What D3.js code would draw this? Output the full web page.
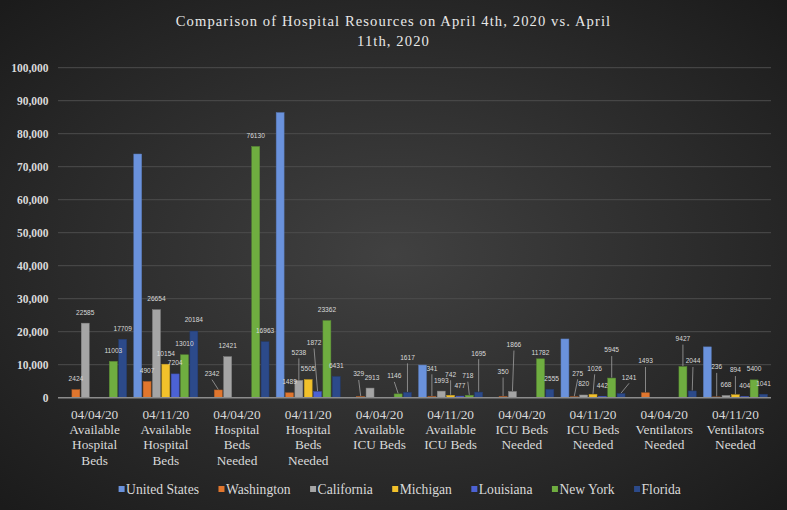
<!DOCTYPE html>
<html><head><meta charset="utf-8">
<script src="https://cdn.jsdelivr.net/npm/d3@7"></script>
<style>html,body{margin:0;padding:0;background:#1c1c1c;}svg{display:block;}</style>
</head><body>
<svg id="chart" width="787" height="510"></svg>
<script>
// ---------- DATA ----------
const titleLines = ["Comparison of Hospital Resources on April 4th, 2020 vs. April", "11th, 2020"];
const categories = [
  "04/04/20\nAvailable\nHospital\nBeds",
  "04/11/20\nAvailable\nHospital\nBeds",
  "04/04/20\nHospital\nBeds\nNeeded",
  "04/11/20\nHospital\nBeds\nNeeded",
  "04/04/20\nAvailable\nICU Beds",
  "04/11/20\nAvailable\nICU Beds",
  "04/04/20\nICU Beds\nNeeded",
  "04/11/20\nICU Beds\nNeeded",
  "04/04/20\nVentilators\nNeeded",
  "04/11/20\nVentilators\nNeeded"
];
const seriesNames = ["United States", "Washington", "California", "Michigan", "Louisiana", "New York", "Florida"];
const unitedStates = [null, 73850, null, 86400, null, 9900, null, 17800, null, 15400];
const washington   = [2424, 4907, 2342, 1489, 329, 341, 350, 275, 1493, 236];
const california   = [22585, 26654, 12421, 5238, 2913, 1993, 1866, 820, null, 668];
const michigan     = [null, 10154, null, 5505, null, 742, null, 1026, null, 894];
const louisiana    = [null, 7204, null, 1872, null, 477, null, 442, null, 404];
const newYork      = [11003, 13010, 76130, 23362, 1146, 718, 11782, 5945, 9427, 5400];
const florida      = [17709, 20184, 16963, 6431, 1617, 1695, 2555, 1241, 2044, 1041];
const seriesValues = [unitedStates, washington, california, michigan, louisiana, newYork, florida];
const showLabels = [false, true, true, true, true, true, true];
const yTicks = [0, 10000, 20000, 30000, 40000, 50000, 60000, 70000, 80000, 90000, 100000];

// ---------- STYLE / LAYOUT ----------
const colors = ["#6a92dc", "#e0762e", "#a5a5a5", "#f2c12b", "#4c62d4", "#6fad40", "#2c4a8a"];
// moved data labels: key "series|category" -> [dx, dy from bar top to label centre, leader]
const labelMoves = {
  "1|2": [-6.3, -16.3, 1], "2|3": [0, -28, 1], "4|3": [-3.5, -49, 1],
  "1|4": [-2, -22.6, 1], "2|4": [2, -10.3, 0], "5|4": [-3.8, -18, 1], "6|4": [0, -35, 1],
  "1|5": [0, -28.3, 1], "3|5": [0, -21, 1], "5|5": [-1.5, -19.6, 1], "6|5": [0, -39, 1],
  "1|6": [0, -25, 1], "2|6": [1.5, -47, 1], "5|6": [0, -6, 0], "6|6": [1.8, -10.6, 0],
  "1|7": [3.4, -23.5, 1], "3|7": [1.7, -26, 1], "5|7": [0, -28, 1], "6|7": [8, -16.3, 1],
  "1|8": [0, -31.8, 1], "5|8": [0, -28, 1], "6|8": [0.7, -30, 1],
  "1|9": [0, -30, 1], "3|9": [0, -24.7, 1]
};

const svg = d3.select("#chart");
const W = 787, H = 510;
const defs = svg.append("defs");
const rg = defs.append("radialGradient").attr("id", "bg").attr("cx", "50%").attr("cy", "50%").attr("r", "70%");
rg.append("stop").attr("offset", "0%").attr("stop-color", "#414141");
rg.append("stop").attr("offset", "100%").attr("stop-color", "#1b1b1b");
svg.append("rect").attr("width", W).attr("height", H).attr("fill", "url(#bg)");

// title
const title = svg.append("text").attr("text-anchor", "middle")
  .attr("font-family", "'Liberation Serif', 'Times New Roman', serif")
  .attr("font-size", 14.6).attr("letter-spacing", 1.1).attr("fill", "#e8e8e8");
titleLines.forEach((t, i) => title.append("tspan").attr("x", W / 2).attr("y", 26 + i * 19.5).text(t));

// scales
const y = d3.scaleLinear().domain([0, 100000]).range([397.7, 67.7]);
const x0 = d3.scaleBand().domain(d3.range(categories.length)).range([59, 771]).paddingInner(0.1).paddingOuter(0.05);
const x1 = d3.scaleBand().domain(d3.range(seriesNames.length)).range([0, x0.bandwidth()]).paddingInner(0.15);

// gridlines
svg.append("g").selectAll("line").data(yTicks.filter(d => d > 0)).join("line")
  .attr("x1", 58).attr("x2", 771).attr("y1", d => y(d)).attr("y2", d => y(d))
  .attr("stroke", "#4d4d4d").attr("stroke-width", 1);

// y axis labels
const yAxis = d3.axisLeft(y).tickValues(yTicks).tickFormat(d => d === 0 ? "0" : d3.format(",")(d)).tickSize(0).tickPadding(0);
const yg = svg.append("g").attr("transform", "translate(48.5,0)").call(yAxis);
yg.select(".domain").remove();
yg.selectAll("text").attr("font-family", "'Liberation Serif', 'Times New Roman', serif")
  .attr("font-weight", "bold").attr("font-size", 11.5).attr("fill", "#d9d9d9");

// bars
const barsG = svg.append("g");
seriesValues.forEach((vals, s) => {
  barsG.append("g").selectAll("rect").data(vals.map((v, c) => ({v, c})).filter(d => d.v != null)).join("rect")
    .attr("x", d => x0(d.c) + x1(s))
    .attr("y", d => y(d.v))
    .attr("width", x1.bandwidth())
    .attr("height", d => y(0) - y(d.v))
    .attr("fill", colors[s])
    .attr("stroke", d3.color(colors[s]).darker(0.6))
    .attr("stroke-width", 0.5);
});

// axis baseline
svg.append("line").attr("x1", 58).attr("x2", 771).attr("y1", y(0)).attr("y2", y(0))
  .attr("stroke", "#8c8c8c").attr("stroke-width", 1.5);

// data labels
const lblG = svg.append("g");
seriesValues.forEach((vals, s) => {
  if (!showLabels[s]) return;
  vals.forEach((v, c) => {
    if (v == null) return;
    const cx = x0(c) + x1(s) + x1.bandwidth() / 2;
    const top = y(v);
    const mv = labelMoves[s + "|" + c] || [0, -11, 0];
    const lx = cx + mv[0], ly = top + mv[1];
    if (mv[2]) {
      lblG.append("line").attr("x1", lx).attr("y1", ly + 6).attr("x2", cx).attr("y2", top - 0.5)
        .attr("stroke", "#a0a0a0").attr("stroke-width", 0.8);
    }
    lblG.append("text").attr("x", lx).attr("y", ly + 2.4).attr("text-anchor", "middle")
      .attr("font-family", "'Liberation Sans', Arial, sans-serif").attr("font-size", 6.6)
      .attr("fill", "#d9d9d9").text(v);
  });
});

// category labels
const catG = svg.append("g");
categories.forEach((c, i) => {
  const t = catG.append("text").attr("text-anchor", "middle")
    .attr("font-family", "'Liberation Serif', 'Times New Roman', serif")
    .attr("font-size", 13.3).attr("fill", "#d9d9d9");
  c.split("\n").forEach((line, k) => t.append("tspan").attr("x", x0(i) + x0.bandwidth() / 2).attr("y", 418.5 + k * 15.4).text(line));
});

// legend
const legG = svg.append("g");
let lxPos = 118.6;
seriesNames.forEach((n, s) => {
  legG.append("rect").attr("x", lxPos).attr("y", 486).attr("width", 6).attr("height", 6).attr("fill", colors[s]);
  const t = legG.append("text").attr("x", lxPos + 7.5).attr("y", 493.8)
    .attr("font-family", "'Liberation Serif', 'Times New Roman', serif").attr("font-size", 13.6)
    .attr("fill", "#d9d9d9").text(n);
  lxPos += 7.5 + t.node().getComputedTextLength() + 19.5;
});
</script>
</body></html>
